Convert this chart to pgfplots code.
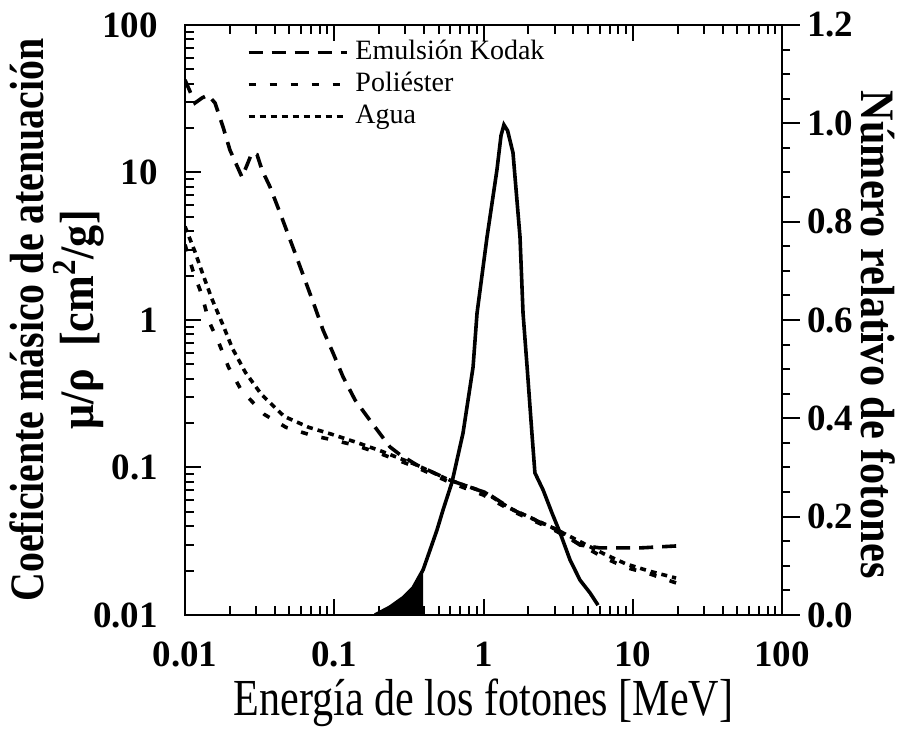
\documentclass[border=0pt]{standalone}
\usepackage{fontspec}
\setmainfont{Liberation Serif}
\usepackage{pgfplots}
\pgfplotsset{compat=1.18}
\begin{document}
\begin{tikzpicture}
\path[use as bounding box] (0,0) rectangle (449pt,366pt);
\begin{axis}[
  at={(92.5pt,58.5pt)}, anchor=south west, scale only axis,
  width=298.5pt, height=295pt,
  xmode=log, ymode=log, xmin=0.01, xmax=100, ymin=0.01, ymax=100,
  xtick={0.01,0.1,1,10,100}, xticklabels={0.01,0.1,1,10,100},
  ytick={0.01,0.1,1,10,100}, yticklabels={0.01,0.1,1,10,100},
  minor xtick={0.02,0.03,0.04,0.05,0.06,0.07,0.08,0.09,0.2,0.3,0.4,0.5,0.6,0.7,0.8,0.9,2,3,4,5,6,7,8,9,20,30,40,50,60,70,80,90},
  minor ytick={0.02,0.03,0.04,0.05,0.06,0.07,0.08,0.09,0.2,0.3,0.4,0.5,0.6,0.7,0.8,0.9,2,3,4,5,6,7,8,9,20,30,40,50,60,70,80,90},
  ytick pos=left, xtick pos=both,
  tick align=inside, major tick length=8pt, minor tick length=4.5pt,
  axis line style={line width=1.4pt},
  every tick/.append style={line width=1pt, black},
  tick label style={font=\fontsize{18.5}{21}\selectfont\bfseries},
  xticklabel style={yshift=-10pt},
  yticklabel style={xshift=-10pt},
  xlabel={\scalebox{0.81}[1]{\fontsize{26}{30}\selectfont Energía de los fotones [MeV]}},
  xlabel style={at={(axis description cs:0.5,-0.149)}, anchor=center},
  ylabel={\scalebox{0.83}[1]{\fontsize{24}{28}\selectfont\bfseries Coeficiente másico de atenuación}\\[3.5pt]\scalebox{0.92}[1]{\fontsize{24}{28}\selectfont\bfseries μ/ρ\ \ [cm\textsuperscript{2}/g]}},
  ylabel style={at={(axis description cs:-0.214,0.5)}, anchor=center, align=center},
  legend style={at={(axis description cs:0.103,0.98)}, anchor=north west, draw=none, fill=none,
    font=\fontsize{14}{16}\selectfont, row sep=0.5pt, inner sep=0pt,
    nodes={inner sep=1pt, text height=10pt, text depth=3.5pt},
    /tikz/every odd column/.append style={column sep=2.5pt}},
  legend cell align=left,
  legend image code/.code={\draw[#1] (0pt,0pt) -- (49pt,0pt);},
]
\addplot[black, line width=1.8pt, dash pattern=on 7pt off 4.5pt] coordinates {
(0.01,42.4)(0.01167,29.6)(0.0130,32.0)(0.01426,33.5)(0.0159,29.6)(0.0180,20.3)(0.0200,14.2)(0.0241,9.3)(0.0260,11.2)(0.0281,13.6)(0.0304,13.2)(0.0328,10.4)(0.0371,8.0)(0.0434,5.3)(0.0546,2.85)(0.0743,1.22)(0.0841,0.855)(0.0982,0.597)(0.1146,0.411)(0.1378,0.287)(0.179,0.200)(0.236,0.138)(0.276,0.122)(0.358,0.104)(0.596,0.082)(1.056,0.067)(1.58,0.0515)(3.11,0.0377)(4.43,0.0298)(6.03,0.0285)(11.2,0.0285)(19.8,0.0294)
};
\addlegendentry{Emulsión Kodak}
\addplot[black, line width=1.8pt, dash pattern=on 3.5pt off 7pt] coordinates {
(0.01,3.24)(0.0113,2.16)(0.0130,1.47)(0.0144,0.99)(0.0168,0.705)(0.0196,0.477)(0.0239,0.333)(0.034,0.229)(0.0476,0.187)(0.0709,0.165)(0.1,0.153)(0.14,0.141)(0.2,0.125)(0.35,0.101)(0.6,0.079)(1.0,0.065)(1.6,0.050)(3.0,0.0375)(6.4,0.0245)(9.0,0.021)(13,0.019)(19.5,0.0165)
};
\addlegendentry{Poliéster}
\addplot[black, line width=1.8pt, dash pattern=on 3pt off 2.5pt] coordinates {
(0.01,4.3)(0.01165,2.91)(0.0132,2.03)(0.0151,1.40)(0.0179,0.933)(0.0208,0.641)(0.0254,0.441)(0.0325,0.313)(0.0462,0.222)(0.0677,0.187)(0.0963,0.168)(0.141,0.148)(0.207,0.129)(0.348,0.105)(0.577,0.083)(1.015,0.068)(1.5,0.053)(3.0,0.0385)(6.4,0.026)(9.0,0.0222)(13,0.0198)(19.5,0.0178)
};
\addlegendentry{Agua}
\end{axis}
\begin{axis}[
  at={(92.5pt,58.5pt)}, anchor=south west, scale only axis,
  width=298.5pt, height=295pt,
  xmode=log, xmin=0.01, xmax=100, ymin=0, ymax=1.2,
  axis x line=none, axis y line*=right,
  ytick={0,0.2,0.4,0.6,0.8,1.0,1.2}, yticklabels={0.0,0.2,0.4,0.6,0.8,1.0,1.2},
  minor y tick num=3,
  tick align=outside, major tick length=9pt, minor tick length=4pt,
  axis line style={line width=1.4pt},
  every tick/.append style={line width=1pt, black},
  tick label style={font=\fontsize{18.5}{21}\selectfont\bfseries},
  ylabel={\scalebox{0.88}[1]{\fontsize{24}{28}\selectfont\bfseries Número relativo de fotones}},
  every axis y label/.style={at={(axis description cs:1.161,0.475)}, anchor=center, rotate=-90},
]
\addplot[black, fill=black, draw=none] coordinates {
(0.1875,0)(0.236,0.016)(0.289,0.035)(0.337,0.055)(0.394,0.092)(0.394,0)
} \closedcycle;
\addplot[black, line width=1.8pt] coordinates {
(0.1875,0)(0.236,0.016)(0.289,0.035)(0.337,0.055)(0.394,0.092)(0.438,0.132)(0.488,0.173)(0.536,0.214)(0.615,0.27)(0.729,0.37)(0.851,0.504)(0.905,0.614)(1.056,0.769)(1.23,0.905)(1.31,0.975)(1.37,0.997)(1.45,0.985)(1.576,0.94)(1.756,0.769)(1.84,0.614)(1.96,0.504)(2.11,0.37)(2.21,0.289)(2.51,0.254)(2.88,0.207)(3.26,0.167)(3.80,0.112)(4.43,0.071)(5.17,0.045)(5.85,0.020)
};
\end{axis}
\end{tikzpicture}
\end{document}
